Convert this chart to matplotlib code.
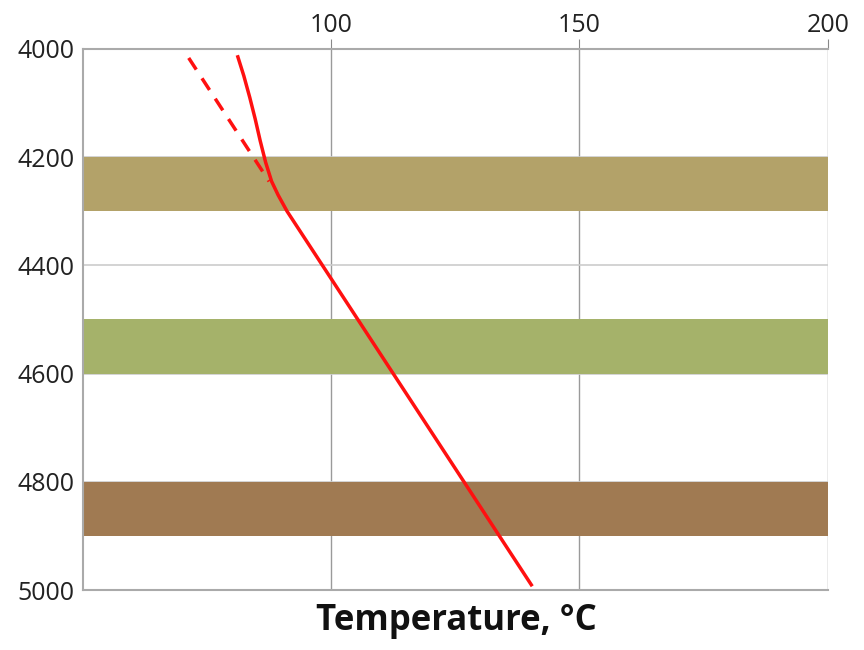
import matplotlib
matplotlib.use("Agg")
import matplotlib.pyplot as plt

# formation bands (top, bottom depth) and colours
band_tops = [4200, 4500, 4800]
band_bottoms = [4300, 4600, 4900]
band_colors = ["#b3a269", "#a5b26a", "#a07a52"]

# measured temperature profile
depth_solid = [4015, 4050, 4090, 4130, 4170, 4210, 4245, 4270, 4300, 4990]
temp_solid = [81.2, 82.4, 83.6, 84.7, 85.7, 86.8, 88.0, 89.3, 91.1, 140.3]

# undisturbed (extrapolated) gradient
depth_dashed = [4017, 4245]
temp_dashed = [71.3, 87.5]

x_ticks = [100, 150, 200]
y_ticks = [4000, 4200, 4400, 4600, 4800, 5000]

plt.rcParams["font.family"] = ["Open Sans", "DejaVu Sans"]

fig = plt.figure(figsize=(8.64, 6.5), dpi=100)
ax = fig.add_axes([0.096, 0.092, 0.862, 0.833])

for top, bot, c in zip(band_tops, band_bottoms, band_colors):
    ax.axhspan(top, bot, color=c, lw=0, zorder=1)

ax.plot(temp_solid, depth_solid, color="#ff1010", lw=2.5, zorder=3,
        solid_joinstyle="round")
ax.plot(temp_dashed, depth_dashed, color="#ff1010", lw=2.5, ls=(0, (4, 3)), zorder=3)

ax.set_xlim(50, 200)
ax.set_ylim(5000, 4000)
ax.set_xticks(x_ticks)
ax.set_yticks(y_ticks)
ax.xaxis.tick_top()
ax.tick_params(axis="x", length=7, color="#888888", labelsize=18, pad=1, labelcolor="#222222")
ax.tick_params(axis="y", length=0, labelsize=18, pad=6, labelcolor="#222222")

ax.grid(axis="x", color="#9a9a9a", lw=1, zorder=0)
ax.grid(axis="y", color="#cccccc", lw=1.2, zorder=0)
ax.set_axisbelow(True)

for s in ["top", "left", "bottom"]:
    ax.spines[s].set_color("#aaaaaa")
    ax.spines[s].set_linewidth(1.5)
ax.spines["right"].set_visible(False)

fig.text(0.528, 0.045, "Temperature, °C", ha="center", va="center",
         fontsize=25, fontweight="bold", color="#111111")

fig.savefig("out.png", dpi=100)
